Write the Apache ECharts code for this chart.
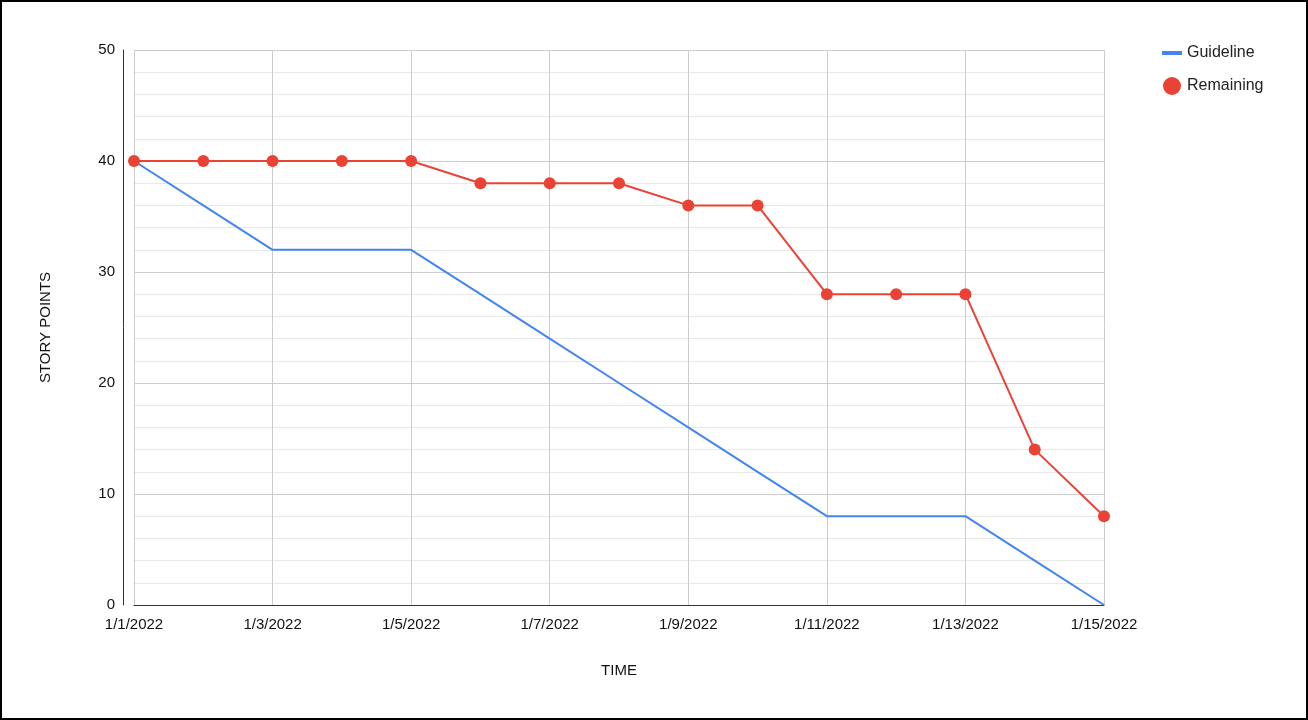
<!DOCTYPE html><html><head><meta charset="utf-8">
<script src="https://cdn.jsdelivr.net/npm/echarts@6/dist/echarts.min.js"></script>
<style>html,body{margin:0;padding:0;background:#fff}#c{width:1304px;height:716px;border:2px solid #000}</style>
</head><body><div id="c"></div><script>
var dates=['1/1/2022','1/2/2022','1/3/2022','1/4/2022','1/5/2022','1/6/2022','1/7/2022','1/8/2022','1/9/2022','1/10/2022','1/11/2022','1/12/2022','1/13/2022','1/14/2022','1/15/2022'];
var guideline=[40,36,32,32,32,28,24,20,16,12,8,8,8,4,0];
var remaining=[40,40,40,40,40,38,38,38,36,36,28,28,28,14,8];
var ch=echarts.init(document.getElementById('c'));
var txt={fontFamily:'Arial, Liberation Sans',fontSize:15,color:'#111'};
ch.setOption({
 animation:false,
 textStyle:{fontFamily:'Arial, Liberation Sans'},
 legend:{orient:'vertical',left:1155,top:38,itemGap:16,itemWidth:20,itemHeight:18,textStyle:{fontSize:16,color:'#222'},
  data:[{name:'Guideline',icon:'path://M0,8L20,8L20,12L0,12Z'},{name:'Remaining',icon:'circle'}]},
 grid:{left:132,right:202,top:48,bottom:113},
 xAxis:{type:'value',min:0,max:14,interval:2,name:'TIME',nameLocation:'middle',nameGap:58,nameTextStyle:{fontSize:15,color:'#111'},
  axisLine:{show:true,onZero:false,lineStyle:{color:'#333'}},axisTick:{show:false},
  axisLabel:Object.assign({formatter:function(v){return dates[v]||'';},margin:12},txt),
  splitLine:{show:true,lineStyle:{color:'#ccc'}}},
 yAxis:{type:'value',min:0,max:50,interval:10,offset:11,name:'STORY POINTS',nameLocation:'middle',nameGap:70,nameRotate:90,nameTextStyle:{fontSize:15,color:'#111'},
  axisLine:{show:true,onZero:false,lineStyle:{color:'#333'}},axisTick:{show:false},axisLabel:Object.assign({margin:8},txt),
  splitLine:{lineStyle:{color:'#ccc'}},minorTick:{show:false,splitNumber:5},minorSplitLine:{show:true,lineStyle:{color:'#e8e8e8'}}},
 series:[
  {name:'Guideline',type:'line',data:guideline.map(function(v,i){return [i,v];}),showSymbol:false,symbol:'none',lineStyle:{color:'#4285f4',width:2},itemStyle:{color:'#4285f4'}},
  {name:'Remaining',type:'line',data:remaining.map(function(v,i){return [i,v];}),symbol:'circle',symbolSize:12,lineStyle:{color:'#ea4335',width:2},itemStyle:{color:'#ea4335'}}
 ]
});
</script></body></html>
